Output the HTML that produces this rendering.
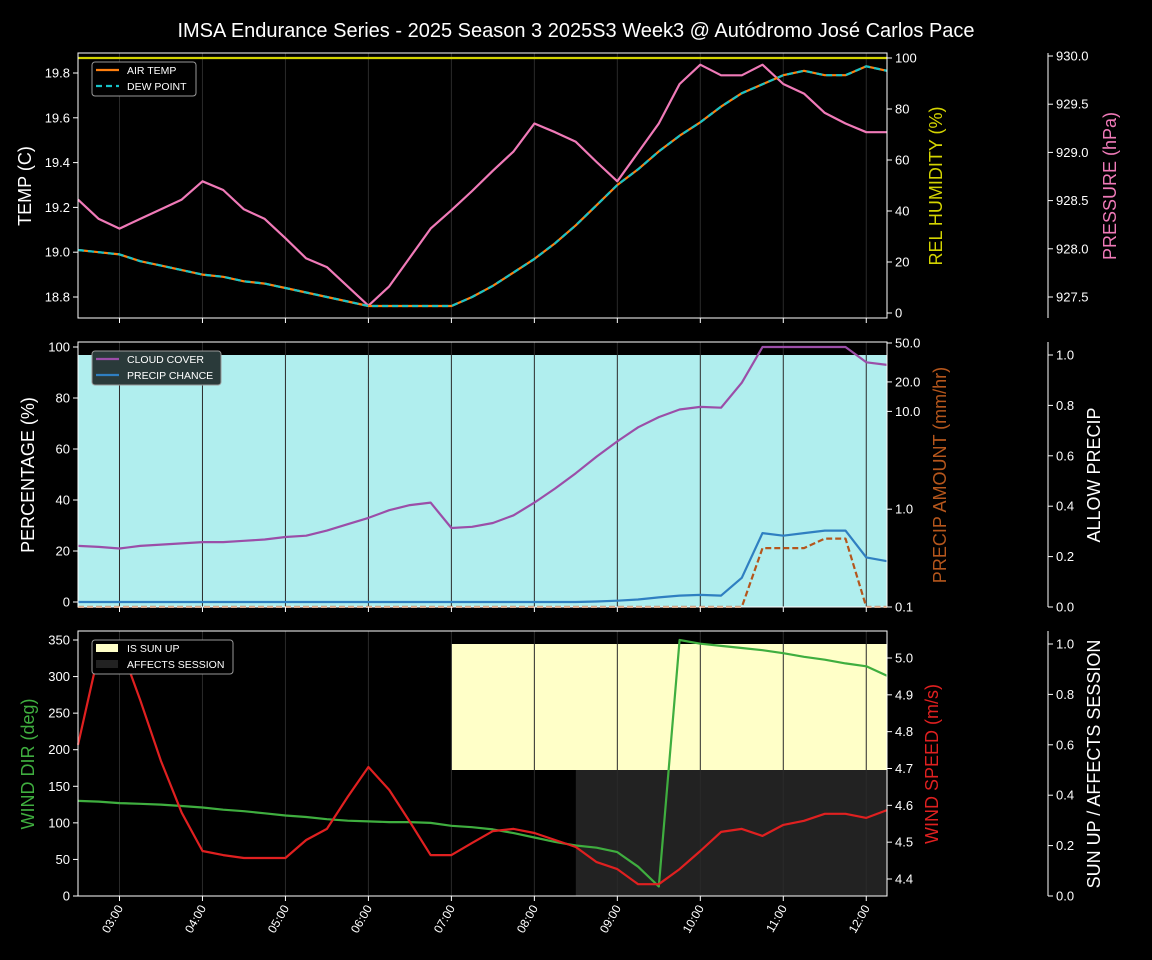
<!DOCTYPE html>
<html><head><meta charset="utf-8"><style>
html,body{margin:0;padding:0;background:#000;}
svg{display:block;font-family:"Liberation Sans","DejaVu Sans",sans-serif;}
</style></head><body>
<svg id="chart" width="1152" height="960" viewBox="0 0 1152 960" xmlns="http://www.w3.org/2000/svg">
<rect width="1152" height="960" fill="#000"/>
<text x="576" y="37" fill="#fff" font-size="20" text-anchor="middle">IMSA Endurance Series - 2025 Season 3 2025S3 Week3 @ Autódromo José Carlos Pace</text>
</svg>
<script>
const times = ["02:30","02:45","03:00","03:15","03:30","03:45","04:00","04:15","04:30","04:45","05:00","05:15","05:30","05:45","06:00","06:15","06:30","06:45","07:00","07:15","07:30","07:45","08:00","08:15","08:30","08:45","09:00","09:15","09:30","09:45","10:00","10:15","10:30","10:45","11:00","11:15","11:30","11:45","12:00","12:15"];
const airTemp = [19.01,19.00,18.99,18.96,18.94,18.92,18.90,18.89,18.87,18.86,18.84,18.82,18.80,18.78,18.76,18.76,18.76,18.76,18.76,18.80,18.85,18.91,18.97,19.04,19.12,19.21,19.30,19.37,19.45,19.52,19.58,19.65,19.71,19.75,19.79,19.81,19.79,19.79,19.83,19.81];
const dewPoint = airTemp.slice();
const humidity = [100,100,100,100,100,100,100,100,100,100,100,100,100,100,100,100,100,100,100,100,100,100,100,100,100,100,100,100,100,100,100,100,100,100,100,100,100,100,100,100];
const pressure = [928.51,928.31,928.21,928.31,928.41,928.51,928.70,928.61,928.41,928.31,928.11,927.90,927.81,927.61,927.41,927.61,927.91,928.21,928.40,928.60,928.81,929.01,929.30,929.21,929.11,928.90,928.70,929.00,929.30,929.71,929.91,929.80,929.80,929.91,929.71,929.61,929.41,929.30,929.21,929.21];
const cloudCover = [22,21.6,21,22,22.5,23,23.5,23.5,24,24.5,25.5,26,28,30.5,33,36,38,39,29,29.5,31,34,39,44.5,50.5,57,63,68.5,72.5,75.5,76.5,76.2,86,100,100,100,100,100,94,93];
const precipChance = [0,0,0,0,0,0,0,0,0,0,0,0,0,0,0,0,0,0,0,0,0,0,0,0,0,0.2,0.5,1,1.8,2.5,2.8,2.5,9.5,27,26,27,28,28,17.5,16];
const precipAmount = [0,0,0,0,0,0,0,0,0,0,0,0,0,0,0,0,0,0,0,0,0,0,0,0,0,0,0,0,0,0,0,0,0,0.4,0.4,0.4,0.5,0.5,0,0];
const allowPrecip = [1,1,1,1,1,1,1,1,1,1,1,1,1,1,1,1,1,1,1,1,1,1,1,1,1,1,1,1,1,1,1,1,1,1,1,1,1,1,1,1];
const windDir = [130,129,127,126,125,123,121,118,116,113,110,108,105,103,102,101,101,100,96,94,91,86,80,74,69,66,60,40,13,350,345,342,339,336,332,327,323,318,314,301];
const windSpeed = [4.764,5.014,5.04,4.886,4.72,4.58,4.476,4.465,4.457,4.457,4.457,4.506,4.536,4.623,4.704,4.642,4.555,4.465,4.465,4.498,4.53,4.536,4.525,4.506,4.487,4.446,4.427,4.386,4.386,4.427,4.476,4.528,4.536,4.517,4.547,4.558,4.577,4.577,4.566,4.587];
const sunUp = [0,0,0,0,0,0,0,0,0,0,0,0,0,0,0,0,0,0,1,1,1,1,1,1,1,1,1,1,1,1,1,1,1,1,1,1,1,1,1,1];
const affects = [0,0,0,0,0,0,0,0,0,0,0,0,0,0,0,0,0,0,0,0,0,0,0,0,1,1,1,1,1,1,1,1,1,1,1,1,1,1,1,1];
const hourTicks = ["03:00","04:00","05:00","06:00","07:00","08:00","09:00","10:00","11:00","12:00"];
const tempTicks = [18.8,19.0,19.2,19.4,19.6,19.8];
const humTicks = [0,20,40,60,80,100];
const presTicks = [927.5,928.0,928.5,929.0,929.5,930.0];
const pctTicks = [0,20,40,60,80,100];
const precipTicks = [0.1,1.0,10.0,20.0,50.0];
const unitTicks = [0.0,0.2,0.4,0.6,0.8,1.0];
const dirTicks = [0,50,100,150,200,250,300,350];
const speedTicks = [4.4,4.5,4.6,4.7,4.8,4.9,5.0];

const svg = document.getElementById('chart');
const NS = 'http://www.w3.org/2000/svg';
function mk(tag, attrs, parent, txt){
  const e = document.createElementNS(NS, tag);
  for (const k in attrs) e.setAttribute(k, attrs[k]);
  if (txt !== undefined) e.textContent = txt;
  (parent || svg).appendChild(e);
  return e;
}
const X0 = 78, X1 = 887;
function tmin(t){ const [h,m] = t.split(':').map(Number); return h*60+m; }
const tStart = tmin("02:30"), tEnd = tmin("12:15");
function xs(t){ return X0 + (tmin(t)-tStart)/(tEnd-tStart)*(X1-X0); }
function lin(d0,d1,p0,p1){ return v => p0 + (v-d0)/(d1-d0)*(p1-p0); }
function logs(d0,d1,p0,p1){ return v => p0 + (Math.log10(v)-Math.log10(d0))/(Math.log10(d1)-Math.log10(d0))*(p1-p0); }
function pathOf(vals, ys){ return vals.map((v,i)=>(i?'L':'M')+xs(times[i]).toFixed(1)+','+ys(v).toFixed(1)).join(' '); }

const panels = [{top:53,bot:318},{top:342,bot:607},{top:631,bot:896}];

function grid(p){
  hourTicks.forEach(h=>{
    const g = mk('line',{x1:xs(h),x2:xs(h),y1:p.top,y2:p.bot,stroke:'#2a2a2a','stroke-width':1});
    
    
  });
}
function frame(p,name){
  const r = mk('rect',{x:X0,y:p.top,width:X1-X0,height:p.bot-p.top,fill:'none',stroke:'#fff','stroke-width':1});
  
  
  hourTicks.forEach(h=>{ mk('line',{x1:xs(h),x2:xs(h),y1:p.bot,y2:p.bot+5,stroke:'#fff'}); });
}
function leftAxis(ticks, ys, fmt){
  ticks.forEach(t=>{
    mk('line',{x1:X0-5,x2:X0,y1:ys(t),y2:ys(t),stroke:'#fff'});
    const tx = mk('text',{x:X0-8,y:ys(t)+4.5,fill:'#fff','font-size':13,'text-anchor':'end'},svg,fmt(t));
    
    
  });
}
function rightAxis(x, ticks, ys, fmt, p, spine){
  if (spine) mk('line',{x1:x,x2:x,y1:p.top,y2:p.bot,stroke:'#fff'});
  ticks.forEach(t=>{
    mk('line',{x1:x,x2:x+5,y1:ys(t),y2:ys(t),stroke:'#fff'});
    const tx = mk('text',{x:x+8,y:ys(t)+4.5,fill:'#fff','font-size':13},svg,fmt(t));
    
    
  });
}
function vlabel(x,y,txt,color,name){
  const t = mk('text',{x:x,y:y,fill:color,'font-size':18,'text-anchor':'middle',transform:`rotate(-90 ${x} ${y})`},svg,txt);
  
  
}
function line(vals, ys, color, name, extra){
  const a = Object.assign({d:pathOf(vals,ys),fill:'none',stroke:color,'stroke-width':2.2,'stroke-linejoin':'round'}, extra||{});
  const e = mk('path',a);
  
  
}

// ---------- Panel 1 ----------
const p1 = panels[0];
const yT = lin(18.8,19.8,297,73), yH = lin(0,100,313,58), yP = lin(927.5,930.0,297,56);
grid(p1);
line(humidity, yH, '#d4d400', 'humidity-line');
line(pressure, yP, '#f07ab8', 'pressure-line');
line(airTemp, yT, '#ff7f0e', 'air-temp-line');
line(dewPoint, yT, '#17c3c8', 'dew-point-line', {'stroke-dasharray':'6,4'});
frame(p1,'temp-panel');
leftAxis(tempTicks, yT, v=>v.toFixed(1));
rightAxis(X1, humTicks, yH, v=>String(v), p1, false);
rightAxis(1048, presTicks, yP, v=>v.toFixed(1), p1, true);
vlabel(31,186,'TEMP (C)','#fff','temp-axis-title');
vlabel(942,186,'REL HUMIDITY (%)','#d4d400','humidity-axis-title');
vlabel(1116,186,'PRESSURE (hPa)','#f07ab8','pressure-axis-title');
// legend 1
(function(){
  const g = mk('g',{});
  
  
  mk('rect',{x:92,y:62,width:104,height:34,rx:3,fill:'#000',stroke:'#999'},g);
  mk('line',{x1:96,x2:119,y1:70,y2:70,stroke:'#ff7f0e','stroke-width':2.2},g);
  mk('text',{x:127,y:74,fill:'#fff','font-size':10.5},g,'AIR TEMP');
  mk('line',{x1:96,x2:119,y1:86,y2:86,stroke:'#17c3c8','stroke-width':2.2,'stroke-dasharray':'6,4'},g);
  mk('text',{x:127,y:90,fill:'#fff','font-size':10.5},g,'DEW POINT');
})();

// ---------- Panel 2 ----------
const p2 = panels[1];
const yPct = lin(0,100,602,347), yAmt = logs(0.1,50,607,343), yU = lin(0,1,607,355);
// allow precip fill
(function(){
  let d = 'M'+xs(times[0])+','+yU(0);
  allowPrecip.forEach((v,i)=>{ d += ' L'+xs(times[i]).toFixed(1)+','+yU(v).toFixed(1); });
  d += ' L'+xs(times[times.length-1])+','+yU(0)+' Z';
  const e = mk('path',{d:d,fill:'#b0eeee'});
  
  
})();
grid(p2);
line(cloudCover, yPct, '#9b4ea8', 'cloud-cover-line');
line(precipChance, yPct, '#2f7fc1', 'precip-chance-line');
line(precipAmount, v=>Math.min(607, yAmt(Math.max(v,0.0001))), '#b5561c', 'precip-amount-line', {'stroke-dasharray':'6,3'});
// mask precip overflow below axis
mk('rect',{x:X0-1,y:608,width:X1-X0+2,height:22,fill:'#000'});
frame(p2,'precip-panel');
leftAxis(pctTicks, yPct, v=>String(v));
rightAxis(X1, precipTicks, yAmt, v=>v.toFixed(1), p2, false);
rightAxis(1048, unitTicks, yU, v=>v.toFixed(1), p2, true);
vlabel(34,475,'PERCENTAGE (%)','#fff','percentage-axis-title');
vlabel(946,475,'PRECIP AMOUNT (mm/hr)','#b5561c','precip-amount-axis-title');
vlabel(1100,475,'ALLOW PRECIP','#fff','allow-precip-axis-title');
(function(){
  const g = mk('g',{});
  
  
  mk('rect',{x:92,y:351,width:129,height:34,rx:3,fill:'#2a3a3a',stroke:'#999'},g);
  mk('line',{x1:96,x2:119,y1:359,y2:359,stroke:'#9b4ea8','stroke-width':2.2},g);
  mk('text',{x:127,y:363,fill:'#fff','font-size':10.5},g,'CLOUD COVER');
  mk('line',{x1:96,x2:119,y1:375,y2:375,stroke:'#2f7fc1','stroke-width':2.2},g);
  mk('text',{x:127,y:379,fill:'#fff','font-size':10.5},g,'PRECIP CHANCE');
})();

// ---------- Panel 3 ----------
const p3 = panels[2];
const yD = lin(0,350,896,640), yS = lin(4.4,5.0,879,658), yU3 = lin(0,1,896,644);
function stepFill(arr, lo, hi, color, name){
  const w = (X1-X0)/(times.length-1);
  arr.forEach((v,i)=>{
    if (!v) return;
    const x = xs(times[i]);
    const xe = Math.min(X1, x + w);
    const r = mk('rect',{x:x.toFixed(1),y:yU3(hi),width:(xe-x+0.5).toFixed(1),height:yU3(lo)-yU3(hi),fill:color});
    
    
  });
}
stepFill(sunUp, 0.5, 1.0, '#ffffc8', 'sun-up-area');
stepFill(affects, 0, 0.5, '#222222', 'affects-session-area');
grid(p3);
line(windDir, yD, '#3fae3f', 'wind-dir-line');
line(windSpeed, yS, '#e02020', 'wind-speed-line');
frame(p3,'wind-panel');
leftAxis(dirTicks, yD, v=>String(v));
rightAxis(X1, speedTicks, yS, v=>v.toFixed(1), p3, false);
rightAxis(1048, unitTicks, yU3, v=>v.toFixed(1), p3, true);
vlabel(34,764,'WIND DIR (deg)','#3fae3f','wind-dir-axis-title');
vlabel(938,764,'WIND SPEED (m/s)','#e02020','wind-speed-axis-title');
vlabel(1100,764,'SUN UP / AFFECTS SESSION','#fff','sun-affects-axis-title');
(function(){
  const g = mk('g',{});
  
  
  mk('rect',{x:92,y:640,width:141,height:34,rx:3,fill:'#000',stroke:'#999'},g);
  mk('rect',{x:96,y:644,width:22,height:8,fill:'#ffffc8'},g);
  mk('text',{x:127,y:652,fill:'#fff','font-size':10.5},g,'IS SUN UP');
  mk('rect',{x:96,y:660,width:22,height:8,fill:'#222'},g);
  mk('text',{x:127,y:668,fill:'#fff','font-size':10.5},g,'AFFECTS SESSION');
})();
// x tick labels
hourTicks.forEach(h=>{
  const x = xs(h), y = 904;
  const t = mk('text',{x:x+4,y:y+4,fill:'#fff','font-size':12,'text-anchor':'end',transform:`rotate(-60 ${x+4} ${y+4})`},svg,h);
  
  
});
</script>
</body></html>
